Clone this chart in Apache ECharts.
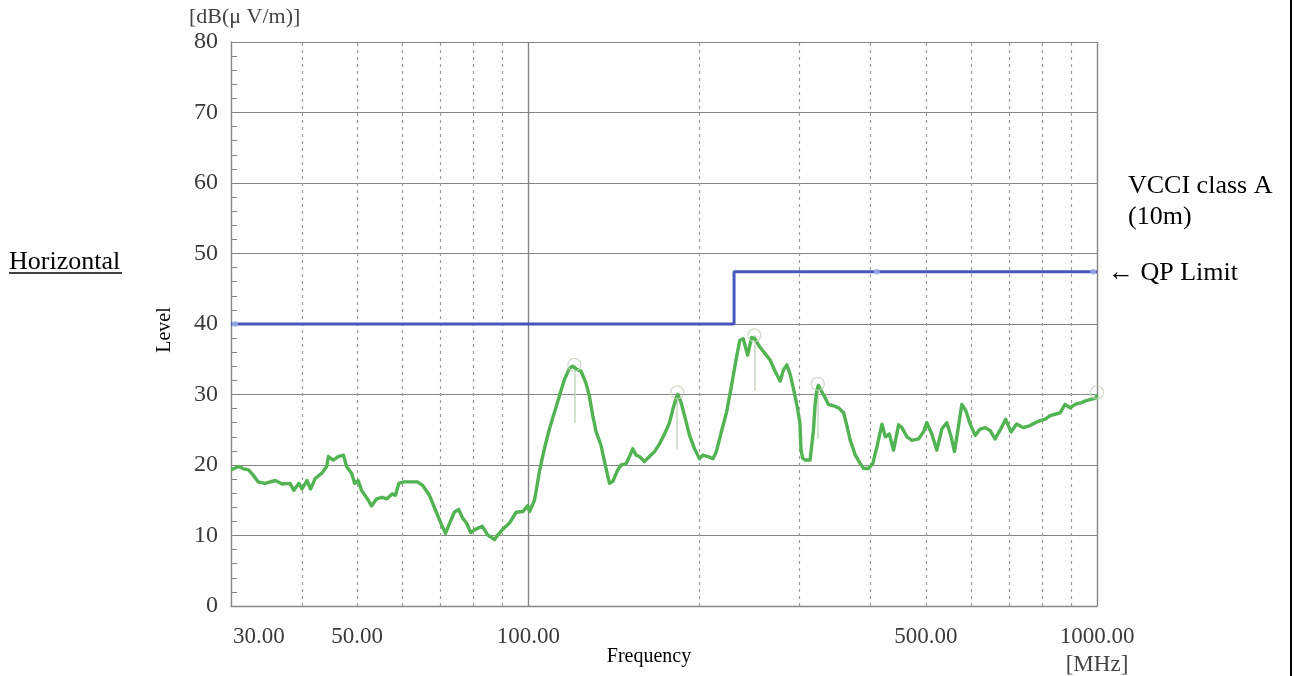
<!DOCTYPE html>
<html>
<head>
<meta charset="utf-8">
<script src="https://cdn.jsdelivr.net/npm/echarts@6/dist/echarts.min.js"></script>
<style>
  html, body { margin: 0; padding: 0; background: #ffffff; }
  #chart { width: 1297px; height: 676px; }
</style>
</head>
<body>
<div id="chart"></div>
<script>
// Measured emission level (dBuV/m) against frequency (MHz), horizontal polarisation
const traceFreq = [
  30.0, 30.9, 31.5, 32.2, 32.8, 33.5, 34.4, 35.9, 36.9, 38.1, 38.7, 39.5,
  40.0, 40.8, 41.4, 42.2, 43.3, 44.2, 44.5, 45.4, 46.3, 47.3, 47.9, 48.9, 49.5,
  50.2, 50.9, 52.3, 53.0, 54.1, 55.3, 56.4, 57.6, 58.4, 59.2,
  60.4, 62.1, 63.8, 65.2, 67.0, 68.9, 70.3, 71.5, 72.6, 74.1, 75.4, 76.6, 77.8, 79.2,
  80.8, 83.0, 84.8, 87.2, 88.4, 90.2, 92.7, 95.2, 97.8, 99.7,
  100.5, 102.5, 103.2, 104.6, 106.7, 108.9, 111.1, 113.4, 115.7, 118.1, 119.7, 120.5,
  122.1, 123.8, 126.3, 128.0, 129.8, 131.6, 134.2, 136.1, 138.9, 140.8, 143.6, 145.6,
  148.6, 150.6, 152.6, 154.7, 156.8, 160.0, 163.3, 166.7, 170.1, 173.6, 177.1, 179.5,
  182.0, 183.2, 185.7, 188.2, 192.1, 196.0,
  200.0, 202.7, 206.9, 211.2, 214.1, 218.5, 223.0, 227.6, 232.3, 235.5, 238.7, 243.0,
  247.0, 250.3, 255.5, 260.8, 266.2, 271.6, 277.3, 281.0, 284.9, 288.8, 292.8, 296.8,
  300.3, 301.6, 303.5, 306.6, 312.9, 317.2, 319.3, 321.5, 323.5, 325.9, 330.3, 337.1,
  344.1, 351.2, 358.4, 363.2, 368.2, 375.8, 383.5, 388.8, 396.8,
  403.3, 410.3, 418.7, 424.4, 431.3, 438.8, 447.8, 453.9, 463.1, 472.6, 485.4, 495.3,
  502.0, 512.3, 522.8, 533.5, 544.4, 554.0, 561.6, 569.2, 578.5, 588.0, 598.4,
  610.6, 622.9, 635.6, 648.5, 661.7, 675.1, 690.7, 705.7, 722.3, 742.2, 762.7, 778.5,
  794.6, 810.8, 827.2, 844.0, 861.1, 878.6, 896.4, 915.3, 934.8, 954.7, 975.1, 995.9, 1000.0
];
const traceLevel = [
  19.3, 19.8, 19.5, 19.3, 18.6, 17.6, 17.4, 17.8, 17.3, 17.4, 16.4, 17.4,
  16.6, 17.8, 16.6, 18.1, 18.8, 19.8, 21.2, 20.7, 21.2, 21.4, 19.8, 18.8, 17.4,
  17.8, 16.4, 15.0, 14.2, 15.2, 15.4, 15.2, 15.9, 15.7, 17.4,
  17.6, 17.6, 17.6, 17.1, 15.7, 13.3, 11.6, 10.3, 11.6, 13.3, 13.7, 12.5, 11.8, 10.4,
  10.9, 11.3, 10.1, 9.4, 10.1, 10.9, 11.8, 13.3, 13.4, 14.2,
  13.4, 15.0, 16.3, 19.1, 22.3, 25.1, 27.4, 29.8, 32.1, 33.7, 34.0, 34.1,
  33.5, 33.3, 31.6, 29.8, 27.0, 24.7, 22.8, 20.5, 17.4, 17.7, 19.3, 20.0,
  20.2, 21.2, 22.3, 21.4, 21.2, 20.5, 21.2, 21.9, 23.0, 24.4, 26.0, 27.9,
  29.5, 30.0, 28.8, 27.0, 24.2, 22.3,
  20.9, 21.4, 21.2, 20.9, 21.9, 24.7, 27.4, 31.2, 35.3, 37.7, 37.9, 35.6,
  38.1, 37.9, 36.7, 35.8, 34.9, 33.3, 31.9, 33.5, 34.2, 32.8, 30.7, 28.4,
  26.0, 22.3, 21.0, 20.7, 20.7, 24.9, 28.5, 30.5, 31.3, 31.2, 30.0, 28.6,
  28.4, 28.1, 27.4, 25.6, 23.5, 21.4, 20.2, 19.5, 19.5,
  20.2, 22.6, 25.8, 24.0, 24.4, 22.1, 25.7, 25.3, 24.0, 23.5, 23.7, 24.7,
  26.0, 24.4, 22.1, 25.1, 26.0, 24.0, 21.9, 24.9, 28.6, 27.7, 25.8,
  24.2, 25.1, 25.3, 24.9, 23.7, 24.9, 26.5, 24.7, 25.8, 25.3, 25.6, 26.0,
  26.3, 26.5, 27.0, 27.2, 27.4, 28.6, 28.1, 28.6, 28.8, 29.1, 29.3, 29.5, 30.0
];

// VCCI class A (10 m) quasi-peak limit
const limitFreq = [30, 230, 230, 1000];
const limitLevel = [40, 40, 47.4, 47.4];
const limitDotFreq = [30.5, 410, 985];
const limitDotLevel = [40, 47.4, 47.4];

// Marked peaks and the stems hanging below them
const peakFreq = [120.5, 182.7, 249.7, 322.8, 1000];
const peakLevel = [34.2, 30.3, 38.4, 31.5, 30.3];
const stemFreq = [120.5, 182.7, 249.7, 322.8];
const stemTop = [34.2, 30.3, 38.4, 31.5];
const stemBottom = [26.0, 22.3, 30.5, 23.7];

// Axis ticks
const dashedGridFreq = [40, 50, 60, 70, 80, 90, 200, 300, 400, 500, 600, 700, 800, 900];
const solidGridFreq = [100, 1000];
const xLabelFreq = [30, 50, 100, 500, 1000];
const yMin = 0, yMax = 80, yStep = 10;

const SERIF = '"Liberation Serif", "DejaVu Serif", serif';
const GRID_GREY = '#858585';

const chart = echarts.init(document.getElementById('chart'), null, { renderer: 'canvas' });

const traceData = traceFreq.map((f, i) => [f, traceLevel[i]]);
const limitData = limitFreq.map((f, i) => [f, limitLevel[i]]);

const gridLines = []
  .concat(dashedGridFreq.map(f => ({
    xAxis: f,
    lineStyle: { color: '#9a9a9a', width: 1.2, type: [3, 4] }
  })))
  .concat(solidGridFreq.map(f => ({
    xAxis: f,
    lineStyle: { color: GRID_GREY, width: 1.4, type: 'solid' }
  })));

const stems = stemFreq.map((f, i) => [
  { coord: [f, stemTop[i]] },
  { coord: [f, stemBottom[i]] }
]);

const staticGraphics = [
  {
    type: 'text', left: 189, top: 6,
    style: { text: '[dB(\u03bc V/m)]', fill: '#444', font: '22px ' + SERIF }
  },
  {
    type: 'text', left: 9, top: 249,
    style: { text: 'Horizontal', fill: '#000', font: '26px ' + SERIF }
  },
  {
    type: 'line', shape: { x1: 9, y1: 273, x2: 122, y2: 273 },
    style: { stroke: '#000', lineWidth: 1.3 }
  },
  {
    type: 'text', x: 165, y: 330, rotation: Math.PI / 2,
    style: { text: 'Level', fill: '#000', font: '20px ' + SERIF, align: 'center', verticalAlign: 'middle' }
  },
  {
    type: 'text', x: 649, y: 657,
    style: { text: 'Frequency', fill: '#000', font: '20px ' + SERIF, align: 'center', verticalAlign: 'middle' }
  },
  {
    type: 'text', x: 1097, y: 665,
    style: { text: '[MHz]', fill: '#444', font: '23px ' + SERIF, align: 'center', verticalAlign: 'middle' }
  },
  {
    type: 'text', x: 1128, y: 186,
    style: { text: 'VCCI class A', fill: '#000', font: '26px ' + SERIF, align: 'left', verticalAlign: 'middle' }
  },
  {
    type: 'text', x: 1128, y: 217,
    style: { text: '(10m)', fill: '#000', font: '26px ' + SERIF, align: 'left', verticalAlign: 'middle' }
  },
  {
    type: 'text', x: 1108, y: 273,
    style: { text: '\u2190 QP Limit', fill: '#000', font: '26px ' + SERIF, align: 'left', verticalAlign: 'middle' }
  },
  {
    type: 'line', shape: { x1: 1291, y1: 0, x2: 1291, y2: 676 },
    style: { stroke: '#000', lineWidth: 2 }
  }
];

const option = {
  backgroundColor: '#ffffff',
  animation: false,
  grid: { left: 231, right: 200, top: 42, bottom: 70, containLabel: false },
  xAxis: {
    type: 'log',
    logBase: 10,
    min: 30,
    max: 1000,
    axisLine: { show: true, lineStyle: { color: GRID_GREY, width: 1.4 } },
    axisTick: { show: false },
    axisLabel: { show: false },
    splitLine: { show: false }
  },
  yAxis: {
    type: 'value',
    min: yMin,
    max: yMax,
    interval: yStep,
    axisLine: { show: true, lineStyle: { color: GRID_GREY, width: 1.4 } },
    axisTick: { show: true, inside: true, length: 6, lineStyle: { color: GRID_GREY } },
    minorTick: { show: true, splitNumber: 5, length: 6, lineStyle: { color: GRID_GREY } },
    axisLabel: { color: '#3a3a3a', fontSize: 24, fontFamily: SERIF, margin: 13 },
    splitLine: { show: true, lineStyle: { color: GRID_GREY, width: 1.2 } }
  },
  series: [
    {
      name: 'grid',
      type: 'line',
      data: limitData,
      silent: true,
      lineStyle: { opacity: 0 },
      showSymbol: false,
      z: 1,
      markLine: {
        silent: true,
        symbol: ['none', 'none'],
        animation: false,
        z: 1,
        label: { show: false },
        data: gridLines
      }
    },
    {
      name: 'QP Limit',
      type: 'line',
      data: limitData,
      showSymbol: false,
      lineStyle: { color: '#4656bb', width: 3 },
      z: 4
    },
    {
      name: 'limit points',
      type: 'scatter',
      data: limitDotFreq.map((f, i) => [f, limitDotLevel[i]]),
      symbolSize: 6,
      itemStyle: { color: '#9db3e6' },
      z: 5
    },
    {
      name: 'Level',
      type: 'line',
      data: traceData,
      showSymbol: false,
      lineStyle: { color: '#52b352', width: 3.4, join: 'round' },
      z: 3,
      markLine: {
        silent: true,
        symbol: ['none', 'none'],
        animation: false,
        z: 2,
        label: { show: false },
        lineStyle: { color: '#c9d8c2', width: 1.5, type: 'solid' },
        data: stems
      }
    },
    {
      name: 'peaks',
      type: 'scatter',
      data: peakFreq.map((f, i) => [f, peakLevel[i]]),
      symbol: 'circle',
      symbolSize: 13,
      itemStyle: { color: 'rgba(0,0,0,0)', borderColor: '#c3d3bb', borderWidth: 1.3 },
      z: 6
    }
  ],
  graphic: staticGraphics
};

chart.setOption(option);

// Frequency tick labels, placed through the log axis scale;
// the first one starts at the axis instead of centring on it
const bottomY = chart.convertToPixel({ yAxisIndex: 0 }, yMin);
const xLabels = xLabelFreq.map((f, i) => ({
  type: 'text',
  x: chart.convertToPixel({ xAxisIndex: 0 }, f) + (i === 0 ? 2 : 0),
  y: bottomY + 31,
  style: {
    text: f.toFixed(2),
    fill: '#3a3a3a',
    font: '23px ' + SERIF,
    align: i === 0 ? 'left' : 'center',
    verticalAlign: 'middle'
  }
}));
chart.setOption({ graphic: staticGraphics.concat(xLabels) });
</script>
</body>
</html>
